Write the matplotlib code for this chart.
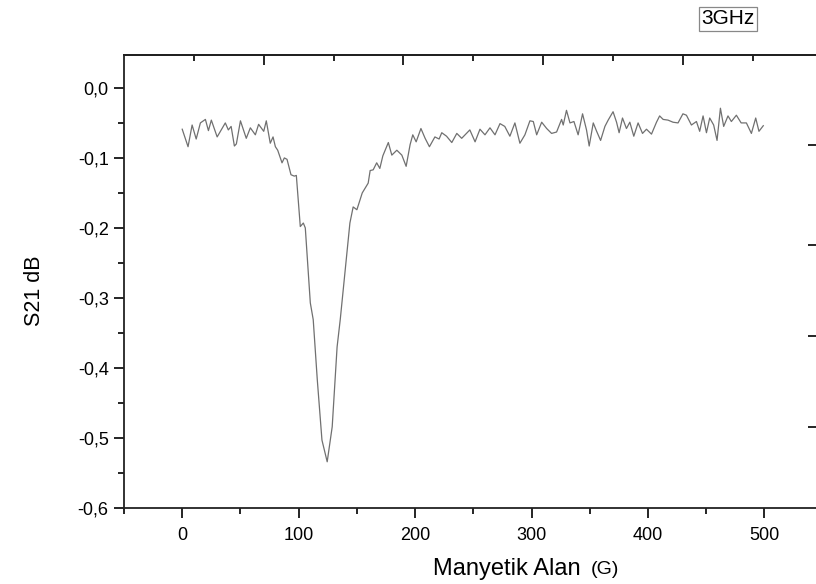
import numpy as np
import matplotlib.pyplot as plt
import matplotlib as mpl

mpl.rcParams['font.family'] = ['Liberation Sans', 'DejaVu Sans']
mpl.rcParams['font.size'] = 13

# S21 vs magnetic field
field = [0, 5, 8.5, 12, 15.6, 19.9, 22.5, 25, 30, 37, 39.6, 42, 44.8, 46.5, 50,
         55, 58.5, 62.8, 65.6, 70, 72.2, 75.6, 78, 80, 82, 85.7, 87.7, 90, 93.4,
         96.2, 98, 101.4, 104, 105.7, 110, 112.5, 116, 120, 124.5, 128.8, 133,
         135.7, 137.4, 144, 146.8, 150, 154.6, 159.7, 161.4, 164, 167, 169.7,
         172.3, 177, 180, 184.3, 188.6, 192.3, 195.7, 198, 200.9, 205, 208.6,
         212.3, 217, 220.6, 222.9, 227, 231.5, 235.8, 240, 247, 251.5, 255.7,
         260, 264.3, 268.6, 272.9, 277, 281.4, 285.7, 290, 294.3, 298.6, 301.5,
         304.4, 308.7, 313, 317.2, 321.5, 325.8, 327.2, 330, 333, 336.4, 340,
         343.8, 347.2, 349.5, 353, 355.9, 359.3, 363, 365.8, 370, 373, 375.2,
         378.1, 381.5, 384.4, 387.8, 391.5, 395.3, 398.7, 403, 407.3, 410, 413,
         417.2, 421.5, 425.8, 430, 433, 437.3, 441.6, 444.4, 447.3, 450.2, 453,
         456.4, 459.3, 462.2, 465, 468.7, 471.6, 475.9, 480, 484.5, 488.8,
         492.5, 495.3, 499]
s21 = [-0.059, -0.084, -0.053, -0.073, -0.050, -0.045, -0.061, -0.046, -0.070,
       -0.050, -0.060, -0.055, -0.083, -0.080, -0.047, -0.072, -0.057, -0.067,
       -0.052, -0.062, -0.047, -0.079, -0.070, -0.084, -0.089, -0.107, -0.100,
       -0.102, -0.124, -0.126, -0.125, -0.198, -0.193, -0.200, -0.307, -0.331,
       -0.417, -0.503, -0.534, -0.484, -0.370, -0.331, -0.303, -0.193, -0.170,
       -0.174, -0.150, -0.136, -0.118, -0.117, -0.107, -0.115, -0.097, -0.078,
       -0.096, -0.089, -0.096, -0.112, -0.081, -0.067, -0.077, -0.058, -0.072,
       -0.084, -0.070, -0.073, -0.064, -0.069, -0.078, -0.065, -0.072, -0.060,
       -0.077, -0.059, -0.067, -0.057, -0.067, -0.051, -0.055, -0.069, -0.050,
       -0.079, -0.067, -0.047, -0.048, -0.067, -0.049, -0.058, -0.065, -0.063,
       -0.045, -0.053, -0.032, -0.050, -0.048, -0.067, -0.037, -0.060, -0.083,
       -0.050, -0.062, -0.075, -0.055, -0.046, -0.034, -0.049, -0.064, -0.043,
       -0.058, -0.049, -0.069, -0.050, -0.065, -0.059, -0.066, -0.049, -0.040,
       -0.045, -0.046, -0.049, -0.050, -0.037, -0.039, -0.053, -0.048, -0.062,
       -0.040, -0.064, -0.043, -0.053, -0.075, -0.029, -0.055, -0.040, -0.048,
       -0.039, -0.050, -0.050, -0.065, -0.043, -0.062, -0.054]

x_ticks = [0, 100, 200, 300, 400, 500]
y_ticks = [0.0, -0.1, -0.2, -0.3, -0.4, -0.5, -0.6]
top_major = [70, 190, 310, 430]
top_minor = [10, 130, 250, 370, 490]
right_major = [-0.081, -0.224, -0.354, -0.484]

fig = plt.figure(figsize=(8.16, 5.84), dpi=100)
ax = fig.add_axes([124/816, 76/584, 694/816, 453/584])

ax.plot(field, s21, color='#707070', linewidth=0.9)

ax.set_xlim(-50, 546)
ax.set_ylim(-0.6, 0.047)

ax.set_xticks(x_ticks)
ax.set_xticks([-50, 50, 150, 250, 350, 450], minor=True)
ax.set_yticks(y_ticks)
ax.set_yticks([0.05, -0.05, -0.15, -0.25, -0.35, -0.45, -0.55], minor=True)
ax.set_yticklabels([('%.1f' % v).replace('.', ',') for v in y_ticks])
ax.tick_params(which='major', direction='out', length=7, width=1.2, labelsize=13)
ax.tick_params(axis='x', which='major', pad=7)
ax.tick_params(axis='y', which='major', pad=4)
ax.tick_params(which='minor', direction='out', length=4, width=1.2)
ax.set_ylim(-0.6, 0.047)

for sp in ax.spines.values():
    sp.set_linewidth(1.3)
    sp.set_color('#222222')

# top and right axes of the original have their own scales
top = ax.secondary_xaxis('top')
top.set_xticks(top_major)
top.set_xticks(top_minor, minor=True)
top.set_xticklabels([])
top.tick_params(which='major', direction='in', length=7, width=1.2)
top.tick_params(which='minor', direction='in', length=4, width=1.2)
top.spines['top'].set_linewidth(1.3)

right = ax.secondary_yaxis('right')
right.set_yticks(right_major)
right.set_yticklabels([])
right.tick_params(which='major', direction='in', length=7, width=1.2)
right.tick_params(which='minor', length=0)

fig.text(581/816, 1 - 569/584, 'Manyetik Alan', ha='right', va='center', fontsize=17)
fig.text(591/816, 1 - 570/584, '(G)', ha='left', va='center', fontsize=14)
fig.text(34/816, 1 - 291/584, 'S21 dB', rotation=90, ha='center', va='center', fontsize=15.5)

fig.text(728/816, 1 - 19/584, '3GHz', ha='center', va='center', fontsize=15,
         bbox=dict(boxstyle='square,pad=0.12', facecolor='white', edgecolor='#888888', linewidth=0.9))

plt.savefig('out.png', dpi=100)
